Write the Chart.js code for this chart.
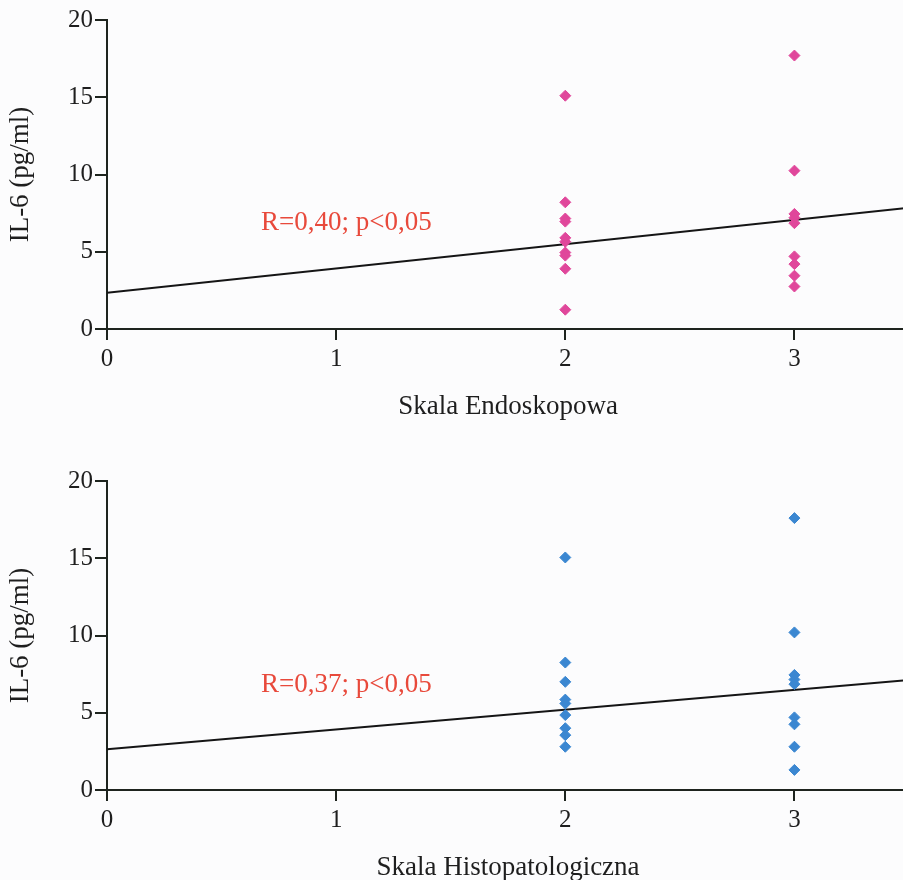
<!DOCTYPE html>
<html lang="pl">
<head>
    <meta charset="UTF-8">
    <title>IL-6</title>
    <script src="https://cdn.jsdelivr.net/npm/chart.js"></script>
    <style>
        body {
            margin: 0;
            background: #fcfcfd;
            overflow: hidden;
        }

        .chart-box {
            position: absolute;
            left: 0;
            width: 916px;
            height: 440px;
        }

        #boxEndo {
            top: 0;
        }

        #boxHisto {
            top: 461px;
        }
    </style>
</head>
<body>
<div class="chart-box" id="boxEndo">
    <canvas id="chartEndo"></canvas>
</div>
<div class="chart-box" id="boxHisto">
    <canvas id="chartHisto"></canvas>
</div>

<script>
    // x axis: grade on the scale, y axis: IL-6 level
    const xTicks = [0, 1, 2, 3];
    const yTicks = [0, 5, 10, 15, 20];

    // Skala Endoskopowa - IL-6 values per grade
    const endoGrade2 = [15.1, 8.2, 7.15, 6.95, 5.9, 5.65, 4.95, 4.75, 3.9, 1.25];
    const endoGrade3 = [17.7, 10.25, 7.45, 7.2, 6.85, 4.7, 4.2, 3.45, 2.75];
    const endoFit = [2.35, 7.85];   // fit line at x = 0 and x = 3.5
    const endoNote = 'R=0,40; p<0,05';

    // Skala Histopatologiczna - IL-6 values per grade
    const histoGrade2 = [15.05, 8.25, 7.0, 5.85, 5.6, 4.85, 4.0, 3.55, 2.8];
    const histoGrade3 = [17.6, 10.2, 7.45, 7.15, 6.85, 4.7, 4.25, 2.8, 1.3];
    const histoFit = [2.64, 7.12];
    const histoNote = 'R=0,37; p<0,05';

    const axisColor = '#1e241e';
    const serif = "'Liberation Serif', 'Times New Roman', serif";

    Chart.defaults.font.family = serif;
    Chart.defaults.color = '#1e1e1e';

    // draws the R / p text inside the plot
    const notePlugin = {
        id: 'note',
        afterDatasetsDraw(chart, args, opts) {
            const ctx = chart.ctx;
            const x = chart.scales.x.getPixelForValue(opts.x);
            const y = chart.scales.y.getPixelForValue(opts.y);
            ctx.save();
            ctx.font = '27px ' + serif;
            ctx.fillStyle = '#e8493b';
            ctx.textAlign = 'center';
            ctx.textBaseline = 'alphabetic';
            ctx.fillText(opts.text, x, y);
            ctx.restore();
        }
    };

    function points(grade, values) {
        return values.map(v => ({x: grade, y: v}));
    }

    function renderScatter(canvasId, grade2, grade3, fit, color, note, noteY, title) {
        const ctx = document.getElementById(canvasId).getContext('2d');
        new Chart(ctx, {
            type: 'scatter',
            data: {
                datasets: [{
                    data: points(2, grade2).concat(points(3, grade3)),
                    backgroundColor: color,
                    borderColor: color,
                    borderWidth: 1,
                    pointStyle: 'rectRot',
                    pointRadius: 5.5,
                    pointHoverRadius: 5.5
                }, {
                    type: 'line',
                    data: [{x: 0, y: fit[0]}, {x: 3.5, y: fit[1]}],
                    borderColor: '#151515',
                    borderWidth: 2,
                    pointRadius: 0,
                    fill: false
                }]
            },
            options: {
                responsive: true,
                maintainAspectRatio: false,
                animation: false,
                layout: {
                    padding: {top: 20, right: 7, left: 0, bottom: 0}
                },
                plugins: {
                    legend: {display: false},
                    tooltip: {enabled: false},
                    note: {text: note, x: 1.045, y: noteY}
                },
                scales: {
                    x: {
                        type: 'linear',
                        min: 0,
                        max: 3.5,
                        afterBuildTicks: scale => {
                            scale.ticks = xTicks.map(v => ({value: v}));
                        },
                        afterFit: scale => {
                            scale.height = 111;
                        },
                        ticks: {
                            font: {size: 25},
                            padding: 4
                        },
                        grid: {
                            drawOnChartArea: false,
                            drawTicks: true,
                            tickLength: 11,
                            color: axisColor,
                            lineWidth: 2
                        },
                        border: {color: axisColor, width: 2},
                        title: {
                            display: true,
                            text: title,
                            font: {size: 27},
                            padding: {top: 0, bottom: 17}
                        }
                    },
                    y: {
                        min: 0,
                        max: 20,
                        afterBuildTicks: scale => {
                            scale.ticks = yTicks.map(v => ({value: v}));
                        },
                        afterFit: scale => {
                            scale.width = 107;
                        },
                        ticks: {
                            font: {size: 25},
                            padding: 2
                        },
                        grid: {
                            drawOnChartArea: false,
                            drawTicks: true,
                            tickLength: 12,
                            color: axisColor,
                            lineWidth: 2
                        },
                        border: {color: axisColor, width: 2},
                        title: {
                            display: true,
                            text: 'IL-6 (pg/ml)',
                            font: {size: 27},
                            padding: {top: 5, bottom: 0}
                        }
                    }
                }
            },
            plugins: [notePlugin]
        });
    }

    renderScatter('chartEndo', endoGrade2, endoGrade3, endoFit, '#e0479b', endoNote, 6.42, 'Skala Endoskopowa');
    renderScatter('chartHisto', histoGrade2, histoGrade3, histoFit, '#3b87d1', histoNote, 6.35, 'Skala Histopatologiczna');
</script>
</body>
</html>
